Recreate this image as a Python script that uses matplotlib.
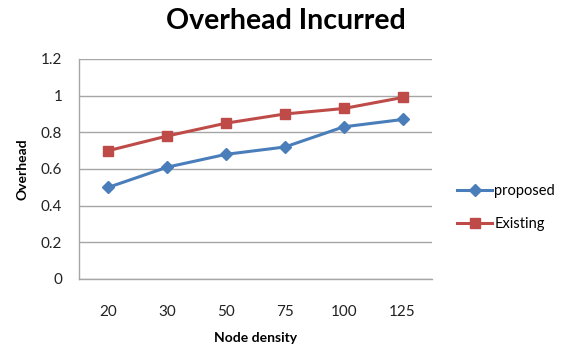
import matplotlib
matplotlib.use("Agg")
import matplotlib.pyplot as plt

node_density = ["20", "30", "50", "75", "100", "125"]
proposed = [0.50, 0.61, 0.68, 0.72, 0.83, 0.87]
existing = [0.70, 0.78, 0.85, 0.90, 0.93, 0.99]
y_ticks = [0, 0.2, 0.4, 0.6, 0.8, 1, 1.2]
y_tick_labels = ["0", "0.2", "0.4", "0.6", "0.8", "1", "1.2"]

plt.rcParams["font.family"] = ["Lato", "DejaVu Sans"]

fig = plt.figure(figsize=(5.61, 3.52), dpi=100)
ax = fig.add_axes([0.1408, 0.2074, 0.6292, 0.625])

x = list(range(len(node_density)))
ax.plot(x, proposed, color="#4A7EBB", lw=2.2, marker="D", ms=6,
        label="proposed")
ax.plot(x, existing, color="#BE4B48", lw=2.2, marker="s", ms=7.5,
        label="Existing")

ax.set_xlim(-0.5, len(node_density) - 0.5)
ax.set_ylim(0, 1.2)
ax.set_xticks(x)
ax.set_xticklabels(node_density)
ax.set_yticks(y_ticks)
ax.set_yticklabels(y_tick_labels)
ax.tick_params(axis="both", length=0, labelsize=11, colors="#222222")
ax.tick_params(axis="x", pad=19)
ax.tick_params(axis="y", pad=12)

ax.grid(axis="y", color="#A6A6A6", lw=1)
ax.set_axisbelow(True)
for side in ("top", "right"):
    ax.spines[side].set_visible(False)
for side in ("left", "bottom"):
    ax.spines[side].set_color("#A6A6A6")
    ax.spines[side].set_linewidth(1)

ax.set_xlabel("Node density", fontsize=10, fontweight="bold", labelpad=9)
ax.set_ylabel("Overhead", fontsize=10, fontweight="bold", labelpad=9)
fig.text(0.51, 0.94, "Overhead Incurred", fontsize=20.5, fontweight="bold",
         ha="center", va="center")

ax.legend(loc="center left", bbox_to_anchor=(1.042, 0.325), frameon=False,
          fontsize=10.5, handlelength=2.4, handletextpad=0.15,
          labelspacing=1.3, borderpad=0.2)

fig.savefig("out.png", dpi=100)
